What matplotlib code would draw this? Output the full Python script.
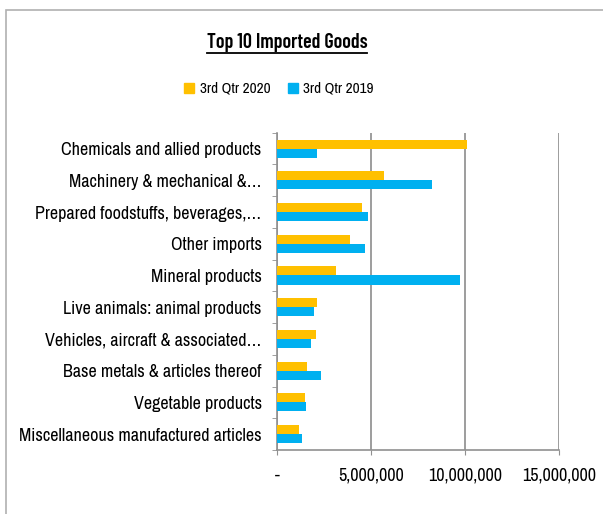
import numpy as np
import matplotlib.pyplot as plt
from matplotlib.patches import Patch, Rectangle
from matplotlib.lines import Line2D
from matplotlib.ticker import FuncFormatter

plt.rcParams['font.family'] = ['Archivo Narrow', 'DejaVu Sans']

categories = [
    "Chemicals and allied products",
    "Machinery & mechanical &\u2026",
    "Prepared foodstuffs, beverages,\u2026",
    "Other imports",
    "Mineral products",
    "Live animals: animal products",
    "Vehicles, aircraft & associated\u2026",
    "Base metals & articles thereof",
    "Vegetable products",
    "Miscellaneous manufactured articles",
]
q3_2020 = [10100000, 5690000, 4500000, 3870000, 3140000, 2130000, 2070000, 1580000, 1510000, 1170000]
q3_2019 = [2130000, 8240000, 4820000, 4680000, 9730000, 1950000, 1790000, 2340000, 1520000, 1310000]
x_ticks = [0, 5000000, 10000000, 15000000]

W, H = 603, 514
fig = plt.figure(figsize=(W / 100, H / 100), dpi=100)

# chart frame
fig.patches.append(Rectangle((6 / W, -0.1), 1.2, 1 - 10 / H + 0.1, transform=fig.transFigure,
                             fill=False, edgecolor='#b0b0b0', linewidth=1.2))

ax = fig.add_axes([277 / W, 1 - 450 / H, (559 - 277) / W, (450 - 132.7) / H])

y = np.arange(len(categories))
h = 0.285
ax.barh(y - h / 2, q3_2020, height=h, color='#FFC000', label='3rd Qtr 2020', zorder=3)
ax.barh(y + h / 2, q3_2019, height=h, color='#00B0F0', label='3rd Qtr 2019', zorder=3)

ax.set_ylim(len(categories) - 0.5, -0.5)
ax.set_xlim(0, 15000000)
ax.set_yticks(y)
ax.set_yticklabels(categories, fontsize=13)
ax.set_yticks(np.arange(len(categories) + 1) - 0.5, minor=True)
ax.tick_params(axis='y', which='major', length=0, pad=11)
ax.tick_params(axis='y', which='minor', length=3.6, color='#909090', direction='out')
ax.set_xticks(x_ticks)
ax.xaxis.set_major_formatter(FuncFormatter(lambda v, p: '-' if v == 0 else f'{int(v):,}'))
ax.tick_params(axis='x', length=3.6, color='#909090', labelsize=13, pad=9)
ax.grid(axis='x', color='#8c8c8c', linewidth=1.2, zorder=0)

for s in ['top', 'right']:
    ax.spines[s].set_visible(False)
for s in ['left', 'bottom']:
    ax.spines[s].set_color('#909090')
    ax.spines[s].set_linewidth(1.2)

title = fig.text(287 / W, 1 - 43 / H, "Top 10 Imported Goods", ha='center', va='center',
                 fontsize=14.4, fontweight=600, family=['Barlow Condensed', 'DejaVu Sans'])
fig.canvas.draw()
bb = title.get_window_extent().transformed(fig.transFigure.inverted())
fig.add_artist(Line2D([bb.x0, bb.x1], [1 - 53 / H, 1 - 53 / H], transform=fig.transFigure,
                      color='black', linewidth=1.3))

handles = [Patch(color='#FFC000', label='3rd Qtr 2020'), Patch(color='#00B0F0', label='3rd Qtr 2019')]
fig.legend(handles=handles, loc='center', bbox_to_anchor=(279 / W, 1 - 89 / H), ncol=2,
           frameon=False, fontsize=11, handlelength=0.65, handleheight=0.65,
           handletextpad=0.35, columnspacing=1.15)

fig.savefig('out.png', dpi=100)
